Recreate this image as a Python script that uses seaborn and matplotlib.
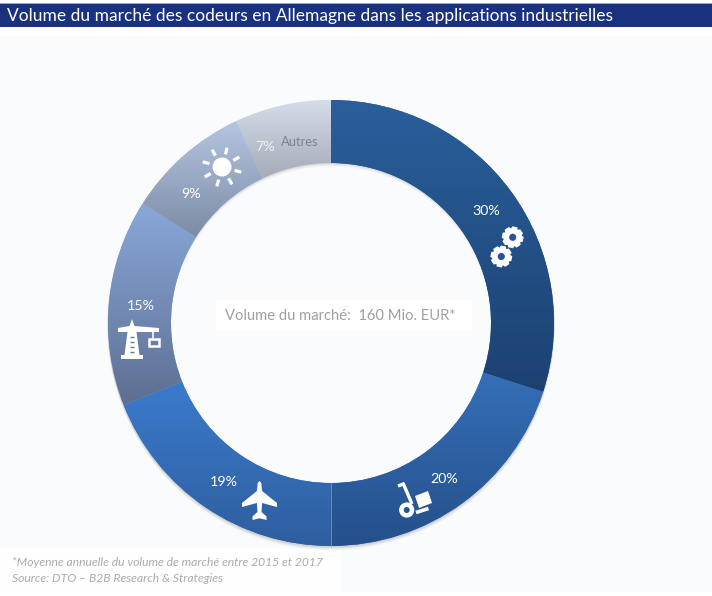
import numpy as np
import matplotlib
matplotlib.use("Agg")
import matplotlib.pyplot as plt
from matplotlib.patches import Rectangle, Circle, Polygon
import seaborn as sns

# ---- data ----
segments = ["Engineering", "Logistique", "Aéronautique", "Construction", "Énergie", "Autres"]
shares = [30, 20, 19, 15, 9, 7]
grad_top = ["#2a5f9c", "#356fb8", "#3b7bcd", "#89a8da", "#b5c6e3", "#d6dDeb"]
grad_bottom = ["#1c4171", "#25508a", "#2e5e9e", "#5d6f92", "#7d8ba4", "#a5abb7"]
label_px = [(486, 211), (444, 479), (224, 482), (141, 306), (191, 194), (265, 147)]
title = "Volume du marché des codeurs en Allemagne dans les applications industrielles"
center_text = "Volume du marché:  160 Mio. EUR*"
notes = ["*Moyenne annuelle du volume de marché entre 2015 et 2017",
         "Source: DTO – B2B Research & Strategies"]

W, H = 712, 596
sns.set_theme(style="white")
plt.rcParams["font.family"] = ["Lato", "DejaVu Sans"]
fig = plt.figure(figsize=(W / 100, H / 100), dpi=100, facecolor="#fafbfd")
ax = fig.add_axes([0, 0, 1, 1])
ax.set_facecolor("#fafbfd")


def Y(py):
    return H - py


def limits():
    ax.set_xlim(0, W)
    ax.set_ylim(0, H)
    ax.set_aspect("auto")


CX, CY, R, r = 331, Y(323), 223, 160

# background strips
ax.add_patch(Rectangle((0, Y(36)), W, 36, fc="white", ec="none", zorder=0))
ax.add_patch(Rectangle((0, 0), W, Y(592), fc="white", ec="none", zorder=0))
ax.add_patch(Rectangle((0, Y(592)), 341, 44, fc="white", ec="none", alpha=0.9, zorder=0.5))
ax.add_patch(Rectangle((0, Y(26.5)), W, 23, fc="#19317f", ec="none", zorder=1))
ax.add_patch(Rectangle((0, Y(4)), W, 1.2, fc="#93a6c9", ec="none", zorder=1.1))

# soft shadow of the ring
for off, al in [(4, 0.035), (3, 0.05), (2, 0.07), (1, 0.09)]:
    sh, _ = ax.pie([1], radius=R + 0.5, center=(CX, CY - off), colors=["#40444c"],
                   wedgeprops=dict(width=R - r, alpha=al, edgecolor="none"))
    for s in sh:
        s.set_zorder(1.5)

# ring: one wedge per share, filled with a vertical gradient
wedges, _ = ax.pie(shares, radius=R, center=(CX, CY), startangle=90, counterclock=False,
                   colors=grad_top, wedgeprops=dict(width=R - r, edgecolor="none"))
limits()
inv = ax.transData.inverted()
for w, top, bot in zip(wedges, grad_top, grad_bottom):
    w.set_zorder(2)
    bb = w.get_window_extent().transformed(inv)
    cmap = sns.blend_palette([top, bot], n_colors=128, as_cmap=True)
    im = ax.imshow(np.linspace(0, 1, 256)[:, None], cmap=cmap, aspect="auto", zorder=2.1,
                   extent=(bb.x0, bb.x1, bb.y0, bb.y1), origin="upper", interpolation="bilinear")
    im.set_clip_path(w)
limits()

# thin seam at the bottom
ax.plot([CX, CX], [Y(483), Y(546)], color="#6f93c4", lw=0.6, zorder=2.2)

WH = dict(fc="white", ec="none", zorder=3)


def poly(pts, **kw):
    style = dict(WH)
    style.update(kw)
    ax.add_patch(Polygon([(x, Y(y)) for x, y in pts], closed=True, **style))


def bar(x0, y0, x1, y1, lw, color="white"):
    ax.plot([x0, x1], [Y(y0), Y(y1)], color=color, lw=lw, solid_capstyle="butt", zorder=3)


def gear(x, y, ro, ri, hole, hole_color, phase=0.0, teeth=8):
    pts = []
    for k in range(teeth):
        a = phase + 2 * np.pi * k / teeth
        d = 2 * np.pi / teeth
        for da, rad in [(-0.34, ri), (-0.2, ro), (0.2, ro), (0.34, ri)]:
            t = a + da * d * 1.45
            pts.append((x + rad * np.cos(t), y + rad * np.sin(t)))
    poly(pts)
    ax.add_patch(Circle((x, Y(y)), hole, fc=hole_color, ec="none", zorder=3.1))


# gears
gear(512.7, 237.3, 11, 9.0, 3.6, "#27558f", 0.2)
gear(501.3, 256.5, 11, 9.0, 3.6, "#27558f", 0.2)

# sun
ax.add_patch(Circle((222, Y(167)), 9.5, **WH))
for deg in np.arange(8) * 45 + 15:
    t = np.deg2rad(deg)
    bar(222 + 13 * np.cos(t), 167 + 13 * np.sin(t), 222 + 20 * np.cos(t), 167 + 20 * np.sin(t), 2.3)

# crane
poly([(132, 319), (134.5, 326), (159, 328), (159, 332), (118, 332), (118, 328), (129.5, 326)])
poly([(127.5, 332), (136.5, 332), (139.5, 355), (124.5, 355)])
poly([(121, 355), (143, 355), (143, 358.5), (121, 358.5)])
for py in (337, 342, 347, 352):
    bar(130, py, 134, py, 1.0, "#64789f")
bar(153, 332, 153, 338, 1.2)
ax.add_patch(Rectangle((148.5, Y(346)), 10.5, 7.5, fc="none", ec="white", lw=1.8, zorder=3))

# plane
half = [(0, 481), (1.8, 483), (2.6, 491), (17.5, 503), (17.5, 507), (2.6, 503),
        (2, 512), (7, 516.5), (7, 520), (0, 518.3)]
poly([(259.5 + a, b) for a, b in half] + [(259.5 - a, b) for a, b in half[::-1]])

# trolley
ax.add_patch(Circle((406.7, Y(510)), 7.6, **WH))
ax.add_patch(Circle((406.7, Y(510)), 3.0, fc="#28568f", ec="none", zorder=3.1))
bar(403, 483, 412, 504, 2.4)
bar(398, 486, 404.5, 483.5, 2.4)
poly([(415, 496), (428, 491), (432, 503), (419, 508)])
bar(416, 512.5, 428.5, 508.5, 2.6)

# texts
ax.text(7, Y(15.5), title, color="white", fontsize=12.55, va="center", ha="left", zorder=4)
ax.add_patch(Rectangle((216, Y(331)), 256, 31, fc="white", ec="none", zorder=2.5))
ax.text(340.5, Y(315.5), center_text, color="#a0a0a0", fontsize=10.6, va="center", ha="center", zorder=4)
for val, (px, py) in zip(shares, label_px):
    ax.text(px, Y(py), f"{val}%", color="white" if val > 7 else "#eef0f4", fontsize=10.3,
            ha="center", va="center", zorder=4)
ax.text(300, Y(142), segments[-1], color="#7d838e", fontsize=9.3, ha="center", va="center", zorder=4)
ax.text(12, Y(563), notes[0], color="#ababab", fontsize=8.7, style="italic", va="center", zorder=4)
ax.text(12, Y(578), notes[1], color="#ababab", fontsize=8.7, style="italic", va="center", zorder=4)

limits()
ax.axis("off")
fig.savefig("out.png", dpi=100, facecolor=fig.get_facecolor())
